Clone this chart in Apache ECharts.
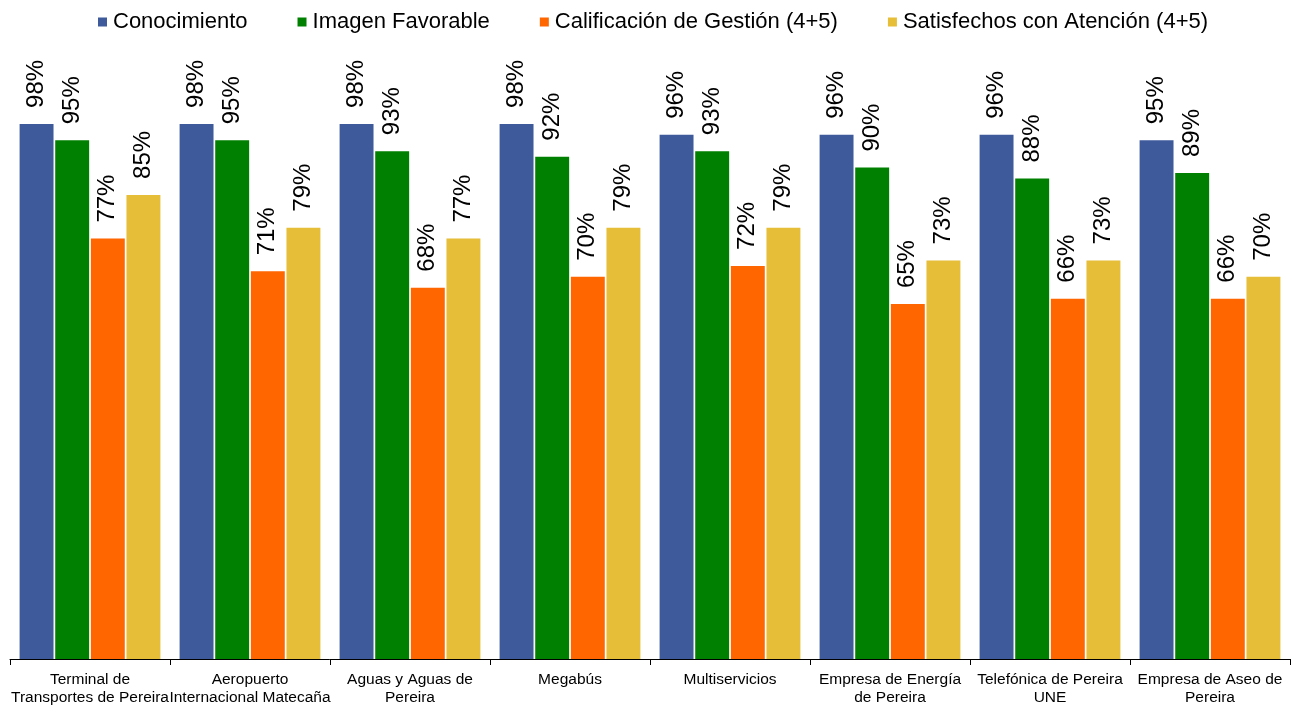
<!DOCTYPE html>
<html>
<head>
<meta charset="utf-8">
<script src="https://cdn.jsdelivr.net/npm/echarts@6/dist/echarts.min.js"></script>
<style>
  html, body { margin: 0; padding: 0; background: #fff; }
  #chart { width: 1296px; height: 707px; }
</style>
</head>
<body>
<div id="chart"></div>
<script>
var categories = [
  "Terminal de\nTransportes de Pereira",
  "Aeropuerto\nInternacional Matecaña",
  "Aguas y Aguas de\nPereira",
  "Megabús",
  "Multiservicios",
  "Empresa de Energía\nde Pereira",
  "Telefónica de Pereira\nUNE",
  "Empresa de Aseo de\nPereira"
];
var seriesNames = ["Conocimiento", "Imagen Favorable", "Calificación de Gestión (4+5)", "Satisfechos con Atención (4+5)"];
var conocimiento = [98, 98, 98, 98, 96, 96, 96, 95];
var imagen = [95, 95, 93, 92, 93, 90, 88, 89];
var calificacion = [77, 71, 68, 70, 72, 65, 66, 66];
var satisfechos = [85, 79, 77, 79, 79, 73, 73, 70];
var colors = ["#3F5A9B", "#008000", "#FF6600", "#E6BE37"];

var font = "Liberation Sans, Arial, sans-serif";
var allData = [conocimiento, imagen, calificacion, satisfechos];

var series = allData.map(function (vals, i) {
  return {
    name: seriesNames[i],
    type: "bar",
    data: vals,
    barGap: "5%",
    barCategoryGap: "12%",
    itemStyle: { color: colors[i] },
    label: {
      show: true,
      position: "top",
      rotate: 90,
      align: "left",
      verticalAlign: "middle",
      distance: 16,
      fontFamily: font,
      fontSize: 24,
      color: "#000",
      formatter: "{c}%"
    }
  };
});

var myChart = echarts.init(document.getElementById("chart"));
var option = {
  animation: false,
  color: colors,
  legend: {
    top: 6,
    left: 93,
    itemWidth: 9,
    itemHeight: 9,
    itemGap: 50,
    icon: "rect",
    textStyle: { fontFamily: font, fontSize: 22, color: "#000", padding: [0, 0, 0, 1] },
    data: seriesNames
  },
  grid: { left: 10, right: 6, top: 113, bottom: 46 },
  xAxis: {
    type: "category",
    data: categories,
    axisLine: { lineStyle: { color: "#000", width: 1 } },
    axisTick: { show: true, length: 6, lineStyle: { color: "#000" } },
    axisLabel: {
      interval: 0,
      fontFamily: font,
      fontSize: 15.5,
      lineHeight: 18,
      color: "#000",
      margin: 12
    }
  },
  yAxis: {
    type: "value",
    min: 0,
    max: 100,
    show: false,
    splitLine: { show: false }
  },
  series: series
};
myChart.setOption(option);
</script>
</body>
</html>
